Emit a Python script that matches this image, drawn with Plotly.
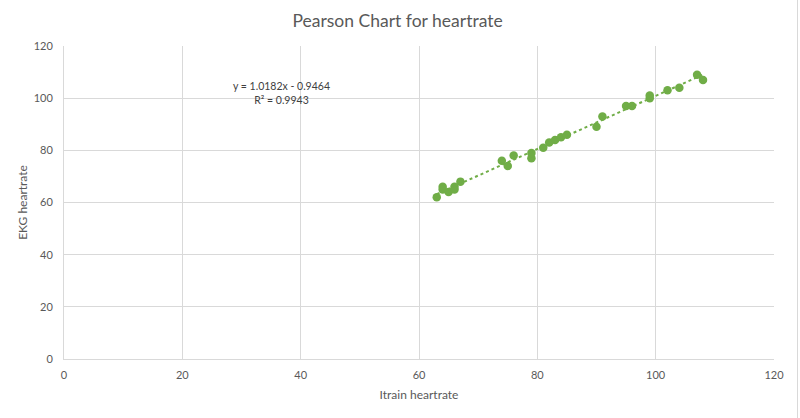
import numpy as np
import plotly.graph_objects as go

itrain_hr = [63, 64, 64, 65, 66, 66, 67, 74, 75, 76, 79, 79, 81, 82, 83, 84, 85,
             90, 91, 95, 96, 99, 99, 102, 104, 107, 108]
ekg_hr = [62, 66, 65, 64, 66, 65, 68, 76, 74, 78, 77, 79, 81, 83, 84, 85, 86,
          89, 93, 97, 97, 100, 101, 103, 104, 109, 107]

x = np.array(itrain_hr, dtype=float)
y = np.array(ekg_hr, dtype=float)
slope, intercept = np.polyfit(x, y, 1)
xl = np.array([x.min(), x.max()])
yl = slope * xl + intercept

GREEN = "#70AD47"
GRID = "#D9D9D9"
TXT = "#595959"
FONT = "Lato, 'Open Sans', sans-serif"

fig = go.Figure()
fig.add_trace(go.Scatter(x=x, y=y, mode="markers",
                         marker=dict(color=GREEN, size=8.5, line=dict(width=0)),
                         showlegend=False))
fig.add_trace(go.Scatter(x=xl, y=yl, mode="lines",
                         line=dict(color=GREEN, width=2, dash="dot"),
                         showlegend=False))

fig.add_annotation(x=36.7, y=102, xref="x", yref="y",
                   text="y = 1.0182x - 0.9464<br>R² = 0.9943",
                   showarrow=False, align="center",
                   font=dict(family=FONT, size=10.5, color="#404040"))

fig.update_layout(
    width=800, height=418,
    margin=dict(l=64, r=26, t=46, b=59),
    paper_bgcolor="white", plot_bgcolor="white",
    font=dict(family=FONT, color=TXT),
    title=dict(text="Pearson Chart for heartrate", x=0.497, xanchor="center",
               y=1 - 20.5 / 418, yanchor="middle",
               font=dict(family=FONT, size=17.5, color=TXT)),
    xaxis=dict(range=[0, 120], dtick=20, tick0=0, showgrid=True, gridcolor=GRID,
               gridwidth=1, zeroline=False, showline=True, linecolor=GRID,
               mirror=False, ticks="", tickfont=dict(size=11, color=TXT),
               ticklabelstandoff=6, automargin=False,
               title=dict(text="Itrain heartrate", standoff=10,
                          font=dict(size=12, color=TXT))),
    yaxis=dict(range=[0, 120], dtick=20, tick0=0, showgrid=True, gridcolor=GRID,
               gridwidth=1, zeroline=False, showline=True, linecolor=GRID,
               ticks="", tickfont=dict(size=11, color=TXT), ticklabelstandoff=8,
               automargin=False,
               title=dict(text="EKG heartrate", standoff=3,
                          font=dict(size=12, color=TXT))),
    shapes=[dict(type="line", xref="paper", yref="paper",
                 x0=(797.5 - 64) / 710, x1=(797.5 - 64) / 710,
                 y0=-0.2, y1=1.16, line=dict(color=GRID, width=1))],
)

fig.write_html("out.html", config={"displayModeBar": False},
               post_script="document.body.style.margin='0';document.body.style.overflow='hidden';")
